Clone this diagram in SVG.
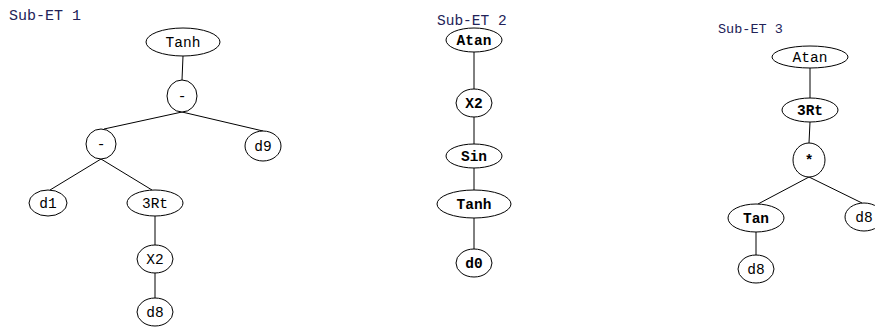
<svg xmlns="http://www.w3.org/2000/svg" width="875" height="329" viewBox="0 0 875 329">
<style>
.n ellipse{fill:#fff;stroke:#000;stroke-width:1}
.n text{font-family:"Liberation Mono","Courier New",monospace;font-size:14.5px;fill:#000;text-anchor:middle}
.b text{font-weight:bold}
.lbl{font-family:"Liberation Mono","Courier New",monospace;fill:#222258}
#edges line{stroke:#000;stroke-width:1}
</style>
<rect width="875" height="329" fill="#fff"/>
<text class="lbl" x="9" y="20" font-size="15">Sub-ET 1</text>
<text class="lbl" x="437" y="25" font-size="14.5">Sub-ET 2</text>
<text class="lbl" x="718" y="33" font-size="13.5">Sub-ET 3</text>
<g id="edges">
<line x1="183" y1="56" x2="182" y2="80"/>
<line x1="182" y1="112" x2="104" y2="129"/>
<line x1="182" y1="112" x2="263" y2="131"/>
<line x1="101" y1="159" x2="50" y2="190"/>
<line x1="101" y1="159" x2="152" y2="190"/>
<line x1="155" y1="216" x2="155" y2="245"/>
<line x1="155" y1="273" x2="155" y2="298"/>
<line x1="474" y1="52" x2="474" y2="89"/>
<line x1="474" y1="117" x2="474" y2="144"/>
<line x1="474" y1="168" x2="474" y2="190"/>
<line x1="474" y1="218" x2="474" y2="249"/>
<line x1="810" y1="68" x2="810" y2="98"/>
<line x1="810" y1="122" x2="809" y2="143"/>
<line x1="809" y1="177" x2="758" y2="204"/>
<line x1="809" y1="177" x2="862" y2="203"/>
<line x1="756" y1="232" x2="756" y2="255"/>
</g>
<g id="t1-tanh" class="n"><ellipse cx="183" cy="42" rx="37" ry="14"/><text x="183" y="47">Tanh</text></g>
<g id="t1-minus1" class="n"><ellipse cx="182" cy="96" rx="15" ry="16"/><text x="182" y="101">-</text></g>
<g id="t1-minus2" class="n"><ellipse cx="101" cy="144" rx="15" ry="15"/><text x="101" y="149">-</text></g>
<g id="t1-d9" class="n"><ellipse cx="263" cy="146" rx="18" ry="15"/><text x="263" y="151">d9</text></g>
<g id="t1-d1" class="n"><ellipse cx="48" cy="203" rx="19" ry="13"/><text x="48" y="208">d1</text></g>
<g id="t1-3rt" class="n"><ellipse cx="155" cy="203" rx="28" ry="13"/><text x="155" y="208">3Rt</text></g>
<g id="t1-x2" class="n"><ellipse cx="155" cy="259" rx="18" ry="14"/><text x="155" y="264">X2</text></g>
<g id="t1-d8" class="n"><ellipse cx="155" cy="312" rx="18" ry="14"/><text x="155" y="317">d8</text></g>
<g id="t2-atan" class="n b"><ellipse cx="474" cy="40" rx="28" ry="12"/><text x="474" y="45">Atan</text></g>
<g id="t2-x2" class="n b"><ellipse cx="474" cy="103" rx="18" ry="14"/><text x="474" y="108">X2</text></g>
<g id="t2-sin" class="n b"><ellipse cx="474" cy="156" rx="28" ry="12"/><text x="474" y="161">Sin</text></g>
<g id="t2-tanh" class="n b"><ellipse cx="474" cy="204" rx="37" ry="14"/><text x="474" y="209">Tanh</text></g>
<g id="t2-d0" class="n b"><ellipse cx="474" cy="263" rx="18" ry="14"/><text x="474" y="268">d0</text></g>
<g id="t3-atan" class="n"><ellipse cx="810" cy="57" rx="38" ry="11"/><text x="810" y="62">Atan</text></g>
<g id="t3-3rt" class="n b"><ellipse cx="810" cy="110" rx="28" ry="12"/><text x="810" y="115">3Rt</text></g>
<g id="t3-mul" class="n b"><ellipse cx="809" cy="160" rx="16" ry="17"/><text x="809" y="165">*</text></g>
<g id="t3-tan" class="n b"><ellipse cx="756" cy="218" rx="28" ry="14"/><text x="756" y="223">Tan</text></g>
<g id="t3-d8a" class="n"><ellipse cx="864" cy="217" rx="19" ry="14"/><text x="864" y="222">d8</text></g>
<g id="t3-d8b" class="n"><ellipse cx="756" cy="269" rx="18" ry="14"/><text x="756" y="274">d8</text></g>
</svg>
